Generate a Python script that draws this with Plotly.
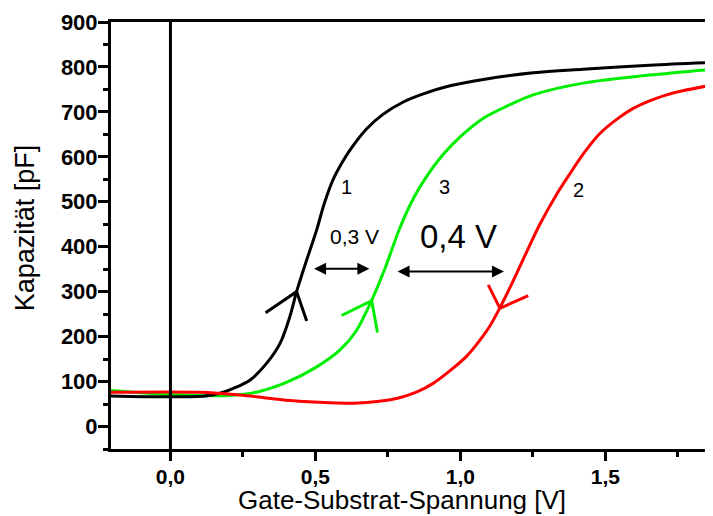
import plotly.graph_objects as go

# ---- data ----
v1 = [-0.205, 0.0, 0.12, 0.17, 0.217, 0.274, 0.332, 0.378, 0.412, 0.435, 0.47, 0.504, 0.53,
      0.56, 0.59, 0.619, 0.676, 0.734, 0.803, 0.872, 0.964, 1.079, 1.251, 1.423, 1.653, 1.871]
c1 = [68, 66, 68, 74, 85, 103, 141, 185, 245, 300, 371, 437, 495,
      548, 585, 615, 662, 695, 722, 740, 758, 772, 787, 795, 804, 810]

v3 = [-0.205, 0.0, 0.2, 0.3, 0.4, 0.5, 0.584, 0.64, 0.69, 0.74, 0.79, 0.84, 0.883,
      0.94, 1.0, 1.079, 1.17, 1.251, 1.423, 1.653, 1.871]
c3 = [80, 71, 69, 77, 98, 131, 170, 212, 275, 352, 440, 510, 556,
      605, 645, 686, 716, 738, 764, 782, 795]

v2 = [-0.205, 0.1, 0.24, 0.413, 0.55, 0.632, 0.72, 0.79, 0.85, 0.906, 0.96, 1.021, 1.06,
      1.10, 1.136, 1.182, 1.228, 1.274, 1.332, 1.378, 1.43, 1.481, 1.54, 1.596, 1.711, 1.871]
c2 = [76, 76, 70, 58, 53, 52, 56, 64, 77, 96, 122, 156, 186,
      222, 264, 324, 388, 450, 517, 563, 612, 652, 684, 708, 738, 760]

# direction chevrons (arm end, tip, arm end)
chev1_v = [0.328, 0.435, 0.47]
chev1_c = [253, 300, 235]
chev3_v = [0.59, 0.694, 0.714]
chev3_c = [247, 280, 209]
chev2_v = [1.096, 1.136, 1.234]
chev2_c = [315, 263, 291]

# shift arrows (start V, end V, level)
shift_small = (0.49, 0.686, 351)
shift_large = (0.778, 1.15, 345)

curve_labels = ["1", "3", "2"]
curve_label_v = [0.608, 0.946, 1.406]
curve_label_c = [534, 534, 526]

shift_texts = ["0,3 V", "0,4 V"]
shift_text_v = [0.636, 0.995]
shift_text_c = [422, 422]

y_ticks = [0, 100, 200, 300, 400, 500, 600, 700, 800, 900]
x_ticks = [0.0, 0.5, 1.0, 1.5]
x_ticklabels = ["0,0", "0,5", "1,0", "1,5"]

BLACK = "#000000"
GREEN = "#00ee00"
RED = "#ff0000"
FONT = "Arial, Liberation Sans, sans-serif"

fig = go.Figure()

fig.add_trace(go.Scatter(x=v3, y=c3, mode="lines", line=dict(color=GREEN, width=3, shape="spline", smoothing=0.8),
                         showlegend=False, hoverinfo="skip"))
fig.add_trace(go.Scatter(x=v1, y=c1, mode="lines", line=dict(color=BLACK, width=3, shape="spline", smoothing=0.9),
                         showlegend=False, hoverinfo="skip"))
fig.add_trace(go.Scatter(x=v2, y=c2, mode="lines", line=dict(color=RED, width=3, shape="spline", smoothing=0.9),
                         showlegend=False, hoverinfo="skip"))

for cv, cc, col in [(chev1_v, chev1_c, BLACK), (chev3_v, chev3_c, GREEN), (chev2_v, chev2_c, RED)]:
    fig.add_trace(go.Scatter(x=cv, y=cc, mode="lines", line=dict(color=col, width=3),
                             showlegend=False, hoverinfo="skip"))

# vertical line at V = 0
fig.add_shape(type="line", xref="x", yref="paper", x0=0, x1=0, y0=0, y1=1,
              line=dict(color=BLACK, width=3))

for (a, b, lvl) in [shift_small, shift_large]:
    fig.add_annotation(x=b, y=lvl, ax=a, ay=lvl, xref="x", yref="y", axref="x", ayref="y",
                       text="", showarrow=True, arrowhead=2, arrowside="end+start",
                       arrowsize=1.2, arrowwidth=2, arrowcolor=BLACK, standoff=0, startstandoff=0)

for t, xv, yv in zip(curve_labels, curve_label_v, curve_label_c):
    fig.add_annotation(x=xv, y=yv, text=t, showarrow=False, font=dict(family=FONT, size=20, color=BLACK))

for t, xv, yv, fs in zip(shift_texts, shift_text_v, shift_text_c, [21, 33]):
    fig.add_annotation(x=xv, y=yv, text=t, showarrow=False, font=dict(family=FONT, size=fs, color=BLACK))

# axis titles
fig.add_annotation(x=0.4834, y=-0.119, xref="paper", yref="paper", text="Gate-Substrat-Spannung [V]",
                   showarrow=False, xanchor="center", yanchor="middle",
                   font=dict(family=FONT, size=26, color=BLACK))
fig.add_annotation(x=-0.143, y=0.519, xref="paper", yref="paper", text="Kapazität [pF]",
                   showarrow=False, xanchor="center", yanchor="middle", textangle=-90,
                   font=dict(family=FONT, size=27, color=BLACK))

# the page body has an 8px default margin, so the figure is 8px smaller and its margins shifted
fig.update_layout(
    width=705, height=508,
    margin=dict(l=103, r=0, t=14, b=67),
    plot_bgcolor="white", paper_bgcolor="white",
    showlegend=False,
    font=dict(family=FONT, color=BLACK),
    xaxis=dict(
        range=[-0.205, 1.871], showgrid=False, zeroline=False, automargin=False,
        showline=True, linecolor=BLACK, linewidth=3, mirror=True,
        tickmode="array", tickvals=x_ticks, ticktext=x_ticklabels,
        ticks="outside", ticklen=9, tickwidth=2.5, tickcolor=BLACK, ticklabelstandoff=-2,
        tickfont=dict(family=FONT, size=21, weight="bold", color=BLACK),
        minor=dict(ticks="outside", dtick=0.25, tick0=0, ticklen=5, tickwidth=2.5, tickcolor=BLACK),
    ),
    yaxis=dict(
        range=[-50, 900], showgrid=False, zeroline=False, automargin=False,
        showline=True, linecolor=BLACK, linewidth=3,
        tickmode="array", tickvals=y_ticks,
        ticks="outside", ticklen=10, tickwidth=2.5, tickcolor=BLACK, ticklabelstandoff=-4,
        tickfont=dict(family=FONT, size=22, weight="bold", color=BLACK),
        minor=dict(ticks="outside", dtick=50, tick0=0, ticklen=5, tickwidth=2.5, tickcolor=BLACK),
    ),
)

fig.write_html("out.html")
